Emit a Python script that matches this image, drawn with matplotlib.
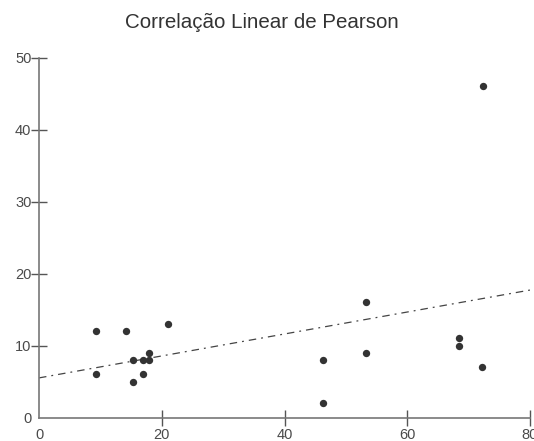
import numpy as np
import matplotlib
matplotlib.use("Agg")
import matplotlib.pyplot as plt

x = [9.3, 9.3, 14.1, 15.3, 15.3, 16.9, 16.9, 18.0, 18.0, 21.0,
     46.3, 46.3, 53.3, 53.3, 68.4, 68.4, 72.1, 72.3]
y = [12, 6, 12, 8, 5, 8, 6, 9, 8, 13,
     8, 2, 16, 9, 11.1, 10, 7, 46]
line_x = [0, 80]
line_y = [5.5, 17.7]
xticks = [0, 20, 40, 60, 80]
yticks = [0, 10, 20, 30, 40, 50]

plt.rcParams['font.family'] = ['Liberation Sans', 'DejaVu Sans']
W, H = 534, 441
fig = plt.figure(figsize=(W / 100, H / 100), dpi=100)
ax = fig.add_axes([39 / W, 23.5 / H, (530 - 39) / W, (417.5 - 57.5) / H])

ax.plot(line_x, line_y, color='#444444', lw=0.9, linestyle=(0, (6, 4, 1.5, 4)), zorder=2)
ax.scatter(x, y, s=28, color='#333333', marker='o', zorder=3, linewidths=0)

ax.set_xlim(0, 80)
ax.set_ylim(0, 50)
ax.set_xticks(xticks)
ax.set_yticks(yticks)
for s in ['top', 'right']:
    ax.spines[s].set_visible(False)
for s in ['left', 'bottom']:
    ax.spines[s].set_color('#777777')
    ax.spines[s].set_linewidth(1.2)
ax.tick_params(axis='both', direction='inout', length=11, width=1, color='#555555',
               labelsize=10.5, labelcolor='#4a4a4a')
ax.tick_params(axis='x', pad=2)
ax.tick_params(axis='y', pad=0)
ax.xaxis.get_major_ticks()[0].tick1line.set_visible(False)
ax.yaxis.get_major_ticks()[0].tick1line.set_visible(False)
ax.patch.set_visible(False)
for lbl in ax.get_xticklabels() + ax.get_yticklabels():
    lbl.set_clip_on(False)

fig.text(262 / W, 1 - 22 / H, 'Correlação Linear de Pearson', ha='center', va='center',
         fontsize=14.8, color='#333333')

fig.savefig('out.png', dpi=100)
